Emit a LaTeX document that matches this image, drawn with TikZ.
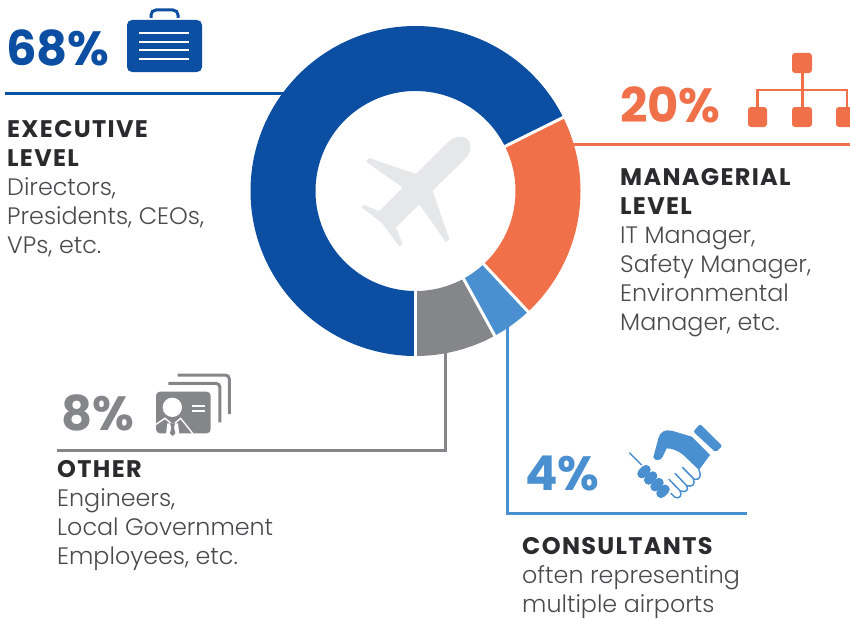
\documentclass[tikz,border=0pt]{standalone}
\usepackage{fontspec}
\setmainfont{Poppins}
\newfontfamily\lightf{Poppins Light}
\newfontfamily\headf{Poppins}[LetterSpace=5.5]
\definecolor{cblue}{HTML}{0B4EA2}
\definecolor{corange}{HTML}{EF7049}
\definecolor{clight}{HTML}{4A8FD0}
\definecolor{cgray}{HTML}{858689}
\definecolor{ctext}{HTML}{4A4A4C}
\definecolor{chead}{HTML}{2B2B2D}
\definecolor{cplane}{HTML}{E6E7E8}
\tikzset{
 pct/.style={anchor=base west,inner sep=0pt,font=\fontsize{48}{48}\selectfont\bfseries},
 desc/.style={anchor=base west,inner sep=0pt,align=left,text=ctext,font=\fontsize{23.8}{29}\selectfont\lightf},
 conn/.style={line width=3pt},
 sep/.style={draw=white,line width=3pt},
 zoomat/.style 2 args={shift={(#1,#2)},x=0.3333pt,y=-0.3333pt}
}
\newcommand{\hd}[1]{{\fontsize{24}{29}\selectfont\headf\bfseries\color{chead}#1}}
\newcommand{\ringseg}[3]{\fill[#1] ([shift={(#2:165)}]C) arc[start angle=#2,end angle=#3,radius=165] -- ([shift={(#3:100)}]C) arc[start angle=#3,end angle=#2,radius=100] -- cycle;}
\newcommand{\ringsep}[1]{\draw[sep] ([shift={(#1:98)}]C) -- ([shift={(#1:167)}]C);}
\begin{document}
\begin{tikzpicture}[x=1pt,y=-1pt]
\useasboundingbox (0,0) rectangle (850,618);
\coordinate (C) at (415.5,191);
% connectors
\coordinate (bA) at (5,93.5); \coordinate (bB) at (295,93.5);
\coordinate (oA) at (850,144); \coordinate (oB) at (565,144);
\coordinate (gA) at (57,450); \coordinate (gC) at (445,450); \coordinate (gB) at (445,340);
\coordinate (lA) at (747,513); \coordinate (lC) at (507,513); \coordinate (lB) at (507,320);
\draw[conn,cblue] (bA)--(bB);
\draw[conn,corange] (oA)--(oB);
\draw[conn,cgray] (gA)--(gC)--(gB);
\draw[conn,clight] (lA)--(lC)--(lB);
% donut
\ringseg{cblue}{90}{333.5}
\ringseg{corange}{-26.5}{47}
\ringseg{clight}{47}{61.3}
\ringseg{cgray}{61.3}{90}
\ringsep{90}\ringsep{-26.5}\ringsep{47}\ringsep{61.3}
% plane
\begin{scope}[zoomat={340}{120}]
\fill[cplane] (228,162) -- (325,65) .. controls (340,50) and (365,45) .. (380,55) .. controls (395,68) and (395,95) .. (380,112) -- (278,212) -- (328,358) -- (318,367) -- (238,253) -- (168,322) -- (188,372) -- (178,380) -- (125,308) -- (65,262) -- (70,254) -- (118,273) -- (188,203) -- (78,125) -- (88,114) -- cycle;
\end{scope}
% percentages
\node[pct,text=cblue] (p68) at (6,65) {68\%};
\node[pct,text=corange] (p20) at (620,122) {20\%};
\node[pct,text=cgray] (p8) at (61,430) {8\%};
\node[pct,text=clight] (p4) at (525,490) {4\%};
% descriptions
\node[desc] (dexec) at (7,253) {\hd{EXECUTIVE}\\\hd{LEVEL}\\Directors,\\Presidents, CEOs,\\VPs, etc.};
\node[desc] (dman) at (620,330) {\hd{MANAGERIAL}\\\hd{LEVEL}\\IT Manager,\\Safety Manager,\\Environmental\\Manager, etc.};
\node[desc] (doth) at (57,564) {\hd{OTHER}\\Engineers,\\Local Government\\Employees, etc.};
\node[desc] (dcon) at (522,612) {\hd{CONSULTANTS}\\often representing\\multiple airports};
% briefcase
\fill[cblue,rounded corners=5pt] (127,20) rectangle (202,72);
\draw[cblue,line width=3pt,rounded corners=5pt] (151,18) -- (151,10) -- (178,10) -- (178,18);
\foreach \yy in {33,42,50,59} \draw[white,line width=1.5pt] (139,\yy) -- (189,\yy);
% org chart
\begin{scope}[corange]
\fill[rounded corners=3pt] (792,53) rectangle (812,73);
\fill[rounded corners=3pt] (748,107) rectangle (767,127);
\fill[rounded corners=3pt] (792,107) rectangle (812,127);
\fill[rounded corners=3pt] (836,107) rectangle (856,127);
\draw[line width=3pt] (802,73) -- (802,107);
\draw[line width=2.5pt] (757.5,107) -- (757.5,90) -- (847,90) -- (847,107);
\end{scope}
% certificate
\begin{scope}[zoomat={150}{370}]
\draw[cgray,line width=3pt,rounded corners=4pt] (55,40) -- (210,40) -- (210,157);
\draw[cgray,line width=3pt,rounded corners=4pt] (83,15) -- (238,15) -- (238,132);
\fill[cgray,rounded corners=4pt] (18,65) rectangle (182,190);
\fill[white] (67,112) circle[radius=29];
\draw[white,line width=2pt] (125,107) -- (165,107) (125,122) -- (165,122);
\draw[white,line width=1.4pt] (18,163) -- (45,145) -- (62,159) (75,159) -- (92,145) -- (128,190);
\fill[white] (52,160) -- (84,160) -- (88,192) -- (48,192) -- cycle;
\fill[cgray] (60,160) -- (75,160) -- (72,172) -- (76,190) -- (68,198) -- (60,190) -- (64,172) -- cycle;
\end{scope}
% handshake
\begin{scope}[zoomat={625}{420}]
\fill[clight,rounded corners=2pt] (205,35) -- (225,12) -- (292,78) -- (272,97) -- cycle;
\fill[clight] (85,112) -- (100,55) .. controls (105,35) and (120,28) .. (140,32) -- (200,50) -- (255,105) -- (222,150) -- (175,105) .. controls (160,92) and (140,85) .. (125,85) -- (113,110) .. controls (108,122) and (90,125) .. (85,112) -- cycle;
\draw[clight,line width=1.5pt] (13,98) -- (50,135);
\foreach \cx/\cy in {57/155,77/174,96/194,114/214} \draw[clight,line width=9.5pt,line cap=round] (\cx-6,\cy+6) -- (\cx+6,\cy-6);
\begin{scope}[clight,line width=1.5pt,line cap=round]
\draw (172,142) -- (208,178) .. controls (225,182) and (230,165) .. (222,150);
\draw (150,160) -- (185,197) .. controls (203,203) and (212,190) .. (205,178);
\draw (132,178) -- (165,212) .. controls (183,220) and (192,210) .. (185,197);
\draw (138,220) -- (150,232) .. controls (165,238) and (172,225) .. (165,212);
\end{scope}
\end{scope}
\end{tikzpicture}
\end{document}
